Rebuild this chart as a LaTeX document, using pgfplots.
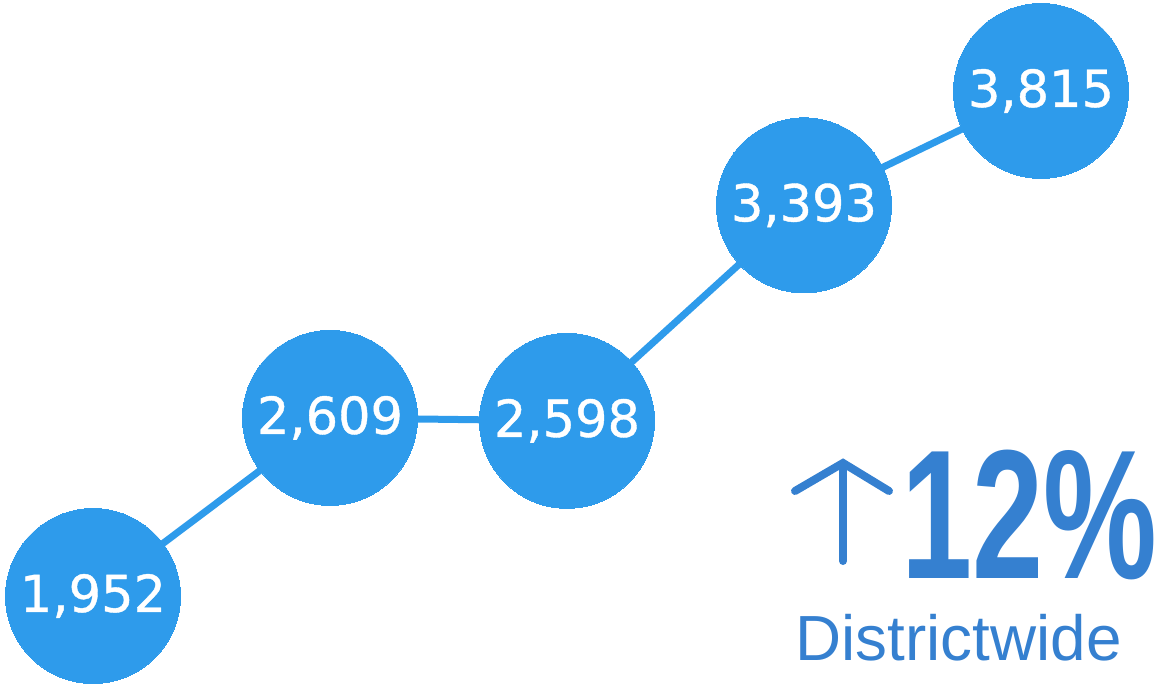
\documentclass[border=0pt]{standalone}
\usepackage{fontspec}
\setmainfont{Liberation Sans}
\newfontfamily\dejavu[FakeBold=0.8]{DejaVu Sans}
\usepackage{pgfplots}
\usepackage{graphicx}
\pgfplotsset{compat=1.18}
\definecolor{dotblue}{RGB}{46,155,235}
\definecolor{txtblue}{RGB}{53,128,208}
\begin{document}
\begin{tikzpicture}
\begin{axis}[
  at={(0pt,0pt)}, anchor=south west,
  scale only axis, width=581.5pt, height=343.5pt,
  hide axis, clip=false,
  xmin=-0.3924, xmax=4.5148,
  ymin=1616.3, ymax=4150.5,
  point meta=explicit symbolic,
  nodes near coords,
  every node near coord/.append style={anchor=center, text=white,
     font=\dejavu\fontsize{25.5pt}{28pt}\selectfont, inner sep=0pt},
]
\addplot[color=dotblue, line width=3.5pt, mark=*, mark size=43.75pt,
  mark options={fill=dotblue, draw=dotblue, line width=0pt}]
  table[x=x, y=y, meta=label] {
x y label
0 1952 {1,952}
1 2609 {2,609}
2 2598 {2,598}
3 3393 {3,393}
4 3815 {3,815}
};
\end{axis}
\begin{scope}[x=0.5pt, y=-0.5pt, yshift=343.5pt]
  \draw[txtblue, line width=4pt, line cap=round, line join=miter]
    (795,491) -- (843,463) -- (889,491);
  \draw[txtblue, line width=4pt, line cap=round] (843,465) -- (843,561);
  \node[anchor=base west, inner sep=0pt, text=txtblue] at (901,578)
    {\scalebox{0.695}[1]{\fontsize{92pt}{92pt}\selectfont\bfseries 12\%}};
  \node[anchor=base west, inner sep=0pt, text=txtblue] at (795,660)
    {\fontsize{31.9pt}{34pt}\selectfont Districtwide};
\end{scope}
\pgfresetboundingbox
\path[use as bounding box] (0pt,0pt) rectangle (581.5pt,343.5pt);
\end{tikzpicture}
\end{document}
